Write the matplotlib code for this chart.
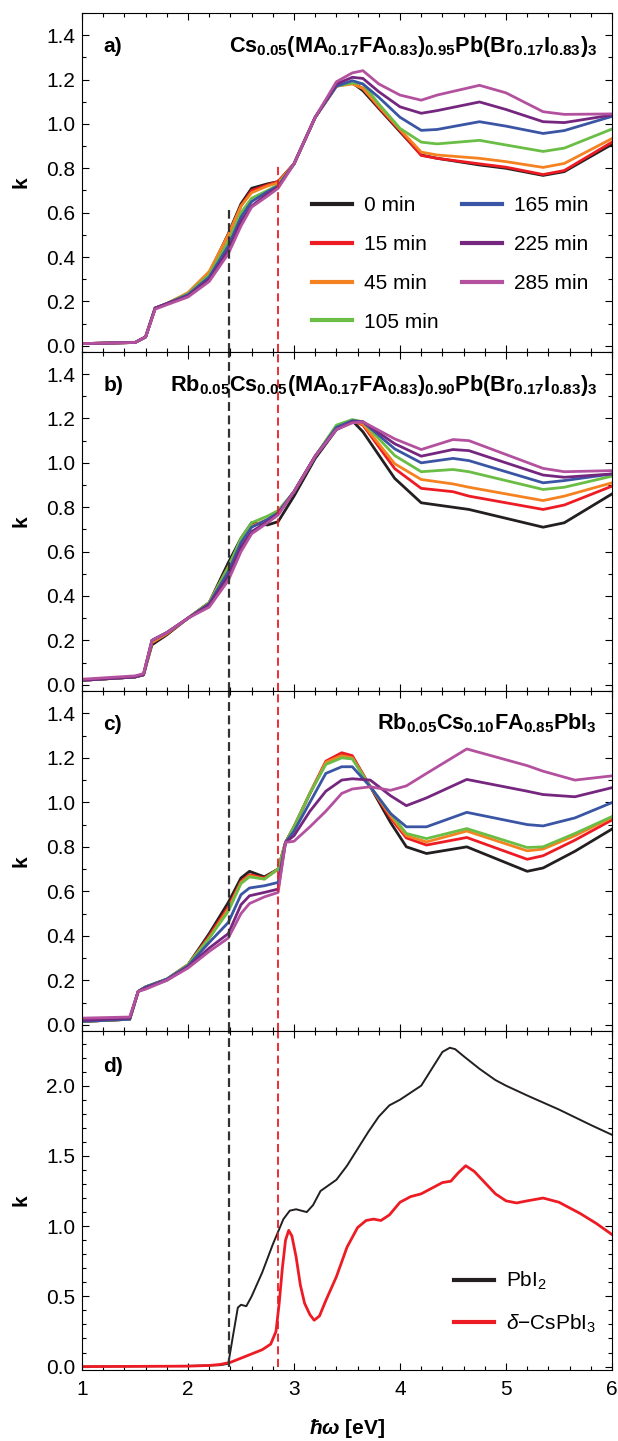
import matplotlib.pyplot as plt
from matplotlib.ticker import MultipleLocator

plt.rcParams['font.family'] = ['Liberation Sans', 'DejaVu Sans']
plt.rcParams['mathtext.fontset'] = 'custom'
plt.rcParams['mathtext.rm'] = 'Liberation Sans'
plt.rcParams['mathtext.it'] = 'Liberation Sans:italic'
plt.rcParams['mathtext.bf'] = 'Liberation Sans:bold'
plt.rcParams['mathtext.bfit'] = 'Liberation Sans:italic:bold'

times = ['0 min', '15 min', '45 min', '105 min', '165 min', '225 min', '285 min']
colors = ['#231f20', '#ed1c24', '#f58220', '#6abd45', '#3b55a5', '#75277f', '#b4519f']

# panel a: Cs0.05(MA0.17FA0.83)0.95Pb(Br0.17I0.83)3
ea = [1.0, 1.5, 1.6, 1.69, 1.8, 2.0, 2.2, 2.38, 2.5, 2.6, 2.75, 2.85, 3.0, 3.2, 3.4,
      3.55, 3.65, 3.8, 4.0, 4.2, 4.35, 4.75, 5.0, 5.35, 5.55, 6.0]
a_0 = [0.01, 0.015, 0.04, 0.17, 0.19, 0.235, 0.325, 0.505, 0.64, 0.71, 0.73, 0.74, 0.82, 1.03, 1.175,
       1.185, 1.15, 1.07, 0.965, 0.86, 0.845, 0.815, 0.80, 0.768, 0.785, 0.908]
a_15 = [0.01, 0.015, 0.04, 0.17, 0.19, 0.235, 0.33, 0.50, 0.63, 0.70, 0.725, 0.74, 0.82, 1.03, 1.17,
        1.185, 1.16, 1.075, 0.97, 0.858, 0.845, 0.82, 0.805, 0.772, 0.79, 0.918]
a_45 = [0.01, 0.015, 0.04, 0.17, 0.19, 0.24, 0.335, 0.50, 0.63, 0.69, 0.72, 0.735, 0.82, 1.03, 1.17,
        1.18, 1.16, 1.08, 0.975, 0.873, 0.86, 0.845, 0.83, 0.804, 0.822, 0.934]
a_105 = [0.01, 0.015, 0.04, 0.17, 0.19, 0.235, 0.32, 0.47, 0.60, 0.665, 0.70, 0.725, 0.82, 1.03, 1.17,
         1.185, 1.18, 1.09, 0.98, 0.918, 0.91, 0.926, 0.905, 0.876, 0.891, 0.977]
a_165 = [0.01, 0.015, 0.04, 0.17, 0.19, 0.23, 0.31, 0.45, 0.58, 0.65, 0.695, 0.72, 0.82, 1.03, 1.17,
         1.195, 1.18, 1.12, 1.03, 0.971, 0.975, 1.01, 0.99, 0.957, 0.97, 1.034]
a_225 = [0.01, 0.015, 0.04, 0.17, 0.19, 0.225, 0.30, 0.43, 0.56, 0.63, 0.685, 0.715, 0.82, 1.03, 1.18,
         1.21, 1.205, 1.145, 1.077, 1.048, 1.06, 1.099, 1.065, 1.01, 1.006, 1.04]
a_285 = [0.01, 0.015, 0.04, 0.165, 0.185, 0.22, 0.29, 0.415, 0.54, 0.625, 0.675, 0.71, 0.82, 1.03, 1.19,
         1.23, 1.24, 1.18, 1.13, 1.107, 1.13, 1.174, 1.14, 1.055, 1.043, 1.045]

# panel b: Rb0.05Cs0.05(MA0.17FA0.83)0.90Pb(Br0.17I0.83)3
eb = [1.0, 1.5, 1.58, 1.66, 1.8, 2.0, 2.2, 2.38, 2.5, 2.6, 2.75, 2.85, 3.0, 3.2, 3.4,
      3.55, 3.65, 3.95, 4.2, 4.5, 4.65, 5.35, 5.55, 6.0]
b_0 = [0.02, 0.035, 0.045, 0.18, 0.225, 0.30, 0.37, 0.55, 0.66, 0.73, 0.72, 0.735, 0.85, 1.02, 1.15,
       1.19, 1.14, 0.93, 0.82, 0.80, 0.79, 0.71, 0.73, 0.86]
b_15 = [0.02, 0.035, 0.045, 0.19, 0.23, 0.30, 0.37, 0.53, 0.65, 0.715, 0.74, 0.77, 0.87, 1.03, 1.16,
        1.19, 1.17, 0.974, 0.885, 0.87, 0.85, 0.79, 0.81, 0.895]
b_45 = [0.02, 0.035, 0.045, 0.19, 0.23, 0.30, 0.37, 0.53, 0.65, 0.715, 0.745, 0.775, 0.87, 1.03, 1.16,
        1.19, 1.175, 0.996, 0.925, 0.905, 0.89, 0.83, 0.85, 0.91]
b_105 = [0.02, 0.035, 0.045, 0.20, 0.235, 0.30, 0.37, 0.53, 0.66, 0.73, 0.76, 0.785, 0.87, 1.03, 1.17,
         1.195, 1.185, 1.033, 0.96, 0.97, 0.96, 0.88, 0.89, 0.94]
b_165 = [0.02, 0.035, 0.045, 0.20, 0.235, 0.30, 0.365, 0.51, 0.64, 0.71, 0.745, 0.775, 0.87, 1.03, 1.16,
         1.19, 1.185, 1.063, 1.0, 1.02, 1.01, 0.91, 0.92, 0.95]
b_225 = [0.02, 0.035, 0.045, 0.20, 0.235, 0.30, 0.36, 0.49, 0.62, 0.69, 0.735, 0.77, 0.87, 1.03, 1.15,
         1.185, 1.185, 1.086, 1.03, 1.06, 1.055, 0.945, 0.935, 0.95]
b_285 = [0.025, 0.04, 0.05, 0.20, 0.235, 0.30, 0.35, 0.47, 0.60, 0.68, 0.73, 0.765, 0.87, 1.03, 1.15,
         1.18, 1.185, 1.108, 1.06, 1.105, 1.10, 0.975, 0.96, 0.965]

# panel c: Rb0.05Cs0.10FA0.85PbI3
ec = [1.0, 1.45, 1.53, 1.6, 1.8, 2.0, 2.2, 2.38, 2.5, 2.58, 2.72, 2.85, 2.92, 3.0, 3.15, 3.3,
      3.45, 3.55, 3.72, 3.91, 4.06, 4.25, 4.63, 5.2, 5.35, 5.65, 6.0]
c_0 = [0.015, 0.025, 0.15, 0.17, 0.205, 0.27, 0.41, 0.55, 0.66, 0.69, 0.665, 0.70, 0.82, 0.89, 1.04, 1.18,
       1.215, 1.20, 1.07, 0.91, 0.80, 0.77, 0.80, 0.69, 0.705, 0.78, 0.88]
c_15 = [0.015, 0.025, 0.15, 0.17, 0.205, 0.27, 0.40, 0.53, 0.645, 0.675, 0.66, 0.70, 0.82, 0.89, 1.04, 1.185,
        1.223, 1.21, 1.07, 0.93, 0.84, 0.808, 0.842, 0.744, 0.76, 0.83, 0.921]
c_45 = [0.015, 0.025, 0.15, 0.17, 0.205, 0.27, 0.39, 0.52, 0.64, 0.67, 0.655, 0.70, 0.82, 0.89, 1.04, 1.18,
        1.21, 1.20, 1.07, 0.94, 0.85, 0.822, 0.871, 0.782, 0.79, 0.85, 0.932]
c_105 = [0.015, 0.025, 0.15, 0.17, 0.205, 0.27, 0.39, 0.51, 0.635, 0.665, 0.655, 0.70, 0.82, 0.89, 1.04, 1.17,
         1.20, 1.195, 1.07, 0.95, 0.86, 0.837, 0.882, 0.797, 0.80, 0.86, 0.936]
c_165 = [0.015, 0.025, 0.15, 0.17, 0.205, 0.265, 0.37, 0.46, 0.585, 0.615, 0.625, 0.64, 0.82, 0.87, 1.0, 1.13,
         1.16, 1.16, 1.07, 0.95, 0.89, 0.89, 0.955, 0.90, 0.894, 0.93, 0.999]
c_225 = [0.02, 0.03, 0.15, 0.165, 0.20, 0.26, 0.345, 0.41, 0.54, 0.58, 0.595, 0.61, 0.82, 0.85, 0.96, 1.05,
         1.10, 1.106, 1.10, 1.03, 0.985, 1.02, 1.103, 1.05, 1.035, 1.025, 1.066]
c_285 = [0.03, 0.035, 0.15, 0.16, 0.20, 0.255, 0.33, 0.39, 0.50, 0.545, 0.575, 0.595, 0.82, 0.825, 0.89, 0.96,
         1.04, 1.06, 1.07, 1.054, 1.074, 1.13, 1.24, 1.165, 1.14, 1.10, 1.119]

# panel d: reference compounds
pbi2_e = [1.0, 2.0, 2.3, 2.38, 2.42, 2.47, 2.5, 2.55, 2.6, 2.7, 2.8, 2.9, 2.96, 3.02, 3.12, 3.18, 3.25,
          3.4, 3.5, 3.6, 3.7, 3.8, 3.9, 4.0, 4.1, 4.2, 4.3, 4.4, 4.47, 4.52, 4.6, 4.75, 4.9, 5.0, 5.2,
          5.5, 5.8, 6.0]
pbi2_k = [0.0, 0.005, 0.01, 0.02, 0.2, 0.42, 0.44, 0.43, 0.50, 0.67, 0.87, 1.05, 1.11, 1.12, 1.10, 1.15, 1.25,
          1.33, 1.43, 1.55, 1.67, 1.78, 1.86, 1.90, 1.95, 2.0, 2.12, 2.24, 2.27, 2.26, 2.21, 2.12, 2.04, 2.0, 1.93,
          1.83, 1.72, 1.65]
cspbi3_e = [1.0, 2.0, 2.2, 2.3, 2.4, 2.5, 2.6, 2.7, 2.78, 2.83, 2.86, 2.89, 2.92, 2.95, 2.98, 3.02, 3.06,
            3.1, 3.15, 3.19, 3.24, 3.3, 3.4, 3.5, 3.6, 3.68, 3.75, 3.82, 3.9, 4.0, 4.1, 4.2, 4.3, 4.4,
            4.48, 4.55, 4.62, 4.7, 4.8, 4.9, 5.0, 5.1, 5.2, 5.35, 5.5, 5.7, 5.85, 6.0]
cspbi3_k = [0.0, 0.003, 0.008, 0.015, 0.03, 0.06, 0.09, 0.12, 0.16, 0.25, 0.45, 0.7, 0.9, 0.97, 0.93, 0.78, 0.58,
            0.45, 0.37, 0.33, 0.36, 0.47, 0.64, 0.85, 0.99, 1.04, 1.05, 1.04, 1.08, 1.17, 1.21, 1.23, 1.27, 1.31,
            1.32, 1.38, 1.43, 1.39, 1.31, 1.23, 1.18, 1.165, 1.18, 1.20, 1.17, 1.09, 1.02, 0.94]

black_edge = 2.39
red_edge = 2.85

fig = plt.figure(figsize=(6.18, 14.41), dpi=100)
left, width = 0.1327, 0.8576
ax_a = fig.add_axes([left, 0.7557, width, 0.2353])
ax_b = fig.add_axes([left, 0.5205, width, 0.2353])
ax_c = fig.add_axes([left, 0.2845, width, 0.2359])
ax_d = fig.add_axes([left, 0.0493, width, 0.2353])

panels = [
    (ax_a, ea, [a_0, a_15, a_45, a_105, a_165, a_225, a_285], 'a)',
     r'$\mathbf{Cs_{0.05}(MA_{0.17}FA_{0.83})_{0.95}Pb(Br_{0.17}I_{0.83})_3}$'),
    (ax_b, eb, [b_0, b_15, b_45, b_105, b_165, b_225, b_285], 'b)',
     r'$\mathbf{Rb_{0.05}Cs_{0.05}(MA_{0.17}FA_{0.83})_{0.90}Pb(Br_{0.17}I_{0.83})_3}$'),
    (ax_c, ec, [c_0, c_15, c_45, c_105, c_165, c_225, c_285], 'c)',
     r'$\mathbf{Rb_{0.05}Cs_{0.10}FA_{0.85}PbI_3}$'),
]

for ax, e, series, tag, formula in panels:
    for k, col, lab in zip(series, colors, times):
        ax.plot(e, k, color=col, lw=2.0, label=lab, solid_joinstyle='round')
    ax.set_ylim(-0.028, 1.5)
    ax.yaxis.set_major_locator(MultipleLocator(0.2))
    ax.yaxis.set_minor_locator(MultipleLocator(0.1))
    ax.text(0.04, 0.886, tag, transform=ax.transAxes, fontsize=15, fontweight='bold', va='baseline')
    ax.text(0.972, 0.886, formula, transform=ax.transAxes, fontsize=15.6, ha='right', va='baseline')

ax_d.plot(pbi2_e, pbi2_k, color='#231f20', lw=1.4, label='PbI$_2$')
ax_d.plot(cspbi3_e, cspbi3_k, color='#ed1c24', lw=2.0, label=r'$\delta$−CsPbI$_3$')
ax_d.set_ylim(-0.024, 2.39)
ax_d.yaxis.set_major_locator(MultipleLocator(0.5))
ax_d.yaxis.set_minor_locator(MultipleLocator(0.1))
ax_d.text(0.04, 0.88, 'd)', transform=ax_d.transAxes, fontsize=15, fontweight='bold', va='baseline')

# band-edge markers
ax_a.vlines(black_edge, -0.028, 0.61, color='#333333', lw=1.6, linestyles=(0, (4, 2)))
ax_a.vlines(red_edge, -0.028, 0.82, color='#ed1c24', lw=1.3, linestyles=(0, (4.5, 2.5)))
for ax in (ax_b, ax_c):
    ax.vlines(black_edge, -0.028, 1.5, color='#333333', lw=1.6, linestyles=(0, (4, 2)))
    ax.vlines(red_edge, -0.028, 1.5, color='#ed1c24', lw=1.3, linestyles=(0, (4.5, 2.5)))
ax_d.vlines(black_edge, 0.0, 2.39, color='#333333', lw=1.6, linestyles=(0, (4, 2)))
ax_d.vlines(red_edge, 0.0, 2.39, color='#ed1c24', lw=1.3, linestyles=(0, (4.5, 2.5)))

for ax in (ax_a, ax_b, ax_c, ax_d):
    ax.set_xlim(1, 6)
    ax.xaxis.set_major_locator(MultipleLocator(1))
    ax.xaxis.set_minor_locator(MultipleLocator(0.2))
    ax.tick_params(which='both', direction='in', top=True, right=True, labelsize=15, width=0.8)
    ax.tick_params(which='major', length=5, pad=5)
    ax.tick_params(which='minor', length=3)
    ax.yaxis.set_major_formatter(plt.FormatStrFormatter('%.1f'))
    ax.set_ylabel('k', fontsize=15, fontweight='bold')
    ax.yaxis.set_label_coords(-0.097, 0.5)
    for s in ax.spines.values():
        s.set_linewidth(0.8)
    if ax is not ax_d:
        ax.tick_params(labelbottom=False)

ax_d.tick_params(axis='x', pad=7)
ax_d.set_xlabel(r'$\mathbfit{\hbar\omega}$ [eV]', fontsize=15, fontweight='bold')
ax_d.xaxis.set_label_coords(0.5, -0.138)

leg_kw = dict(frameon=False, fontsize=15, handlelength=1.92, handletextpad=0.58,
              labelspacing=0.95, borderpad=0, loc='upper left')
leg = ax_a.legend(ncol=2, columnspacing=1.1, bbox_to_anchor=(0.415, 0.49), **leg_kw)
for h in leg.get_lines():
    h.set_linewidth(3)
leg = ax_d.legend(bbox_to_anchor=(0.683, 0.325), **leg_kw)
for h in leg.get_lines():
    h.set_linewidth(3)

fig.savefig('out.png', dpi=100)
